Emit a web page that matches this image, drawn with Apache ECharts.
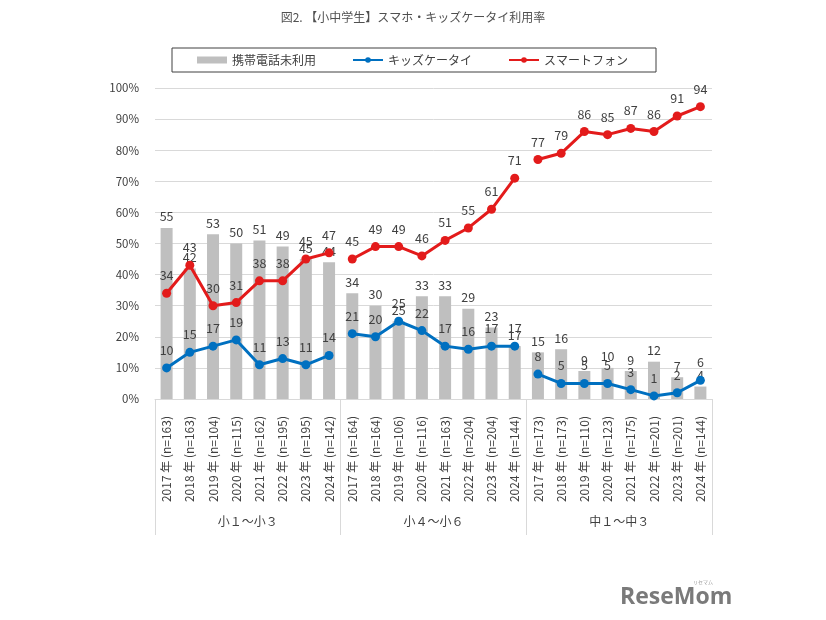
<!DOCTYPE html>
<html><head><meta charset="utf-8">
<script src="https://cdn.jsdelivr.net/npm/echarts@6/dist/echarts.min.js"></script>
<style>html,body{margin:0;padding:0;background:#fff}#c{width:826px;height:620px}</style>
</head><body><div id="c"></div>
<script>
var titleText = '図2. 【小中学生】スマホ・キッズケータイ利用率';
var groups = ['小１〜小３', '小４〜小６', '中１〜中３'];
var years = ['2017', '2018', '2019', '2020', '2021', '2022', '2023', '2024'];
var sampleSizes = [163,163,104,115,162,195,195,142, 164,164,106,116,163,204,204,144, 173,173,110,123,175,201,201,144];
var seriesNames = ['携帯電話未利用', 'キッズケータイ', 'スマートフォン'];
var noPhone = [55,42,53,50,51,49,45,44, 34,30,25,33,33,29,23,17, 15,16,9,10,9,12,7,4];
var kidsPhone = [10,15,17,19,11,13,11,14, 21,20,25,22,17,16,17,17, 8,5,5,5,3,1,2,6];
var smartphone = [34,43,30,31,38,38,45,47, 45,49,49,46,51,55,61,71, 77,79,86,85,87,86,91,94];
var yTicks = [0,10,20,30,40,50,60,70,80,90,100];

var categories = [];
for (var g = 0; g < groups.length; g++) {
  for (var y = 0; y < years.length; y++) {
    var i = g * years.length + y;
    categories.push(years[y] + ' 年 (n=' + sampleSizes[i] + ')');
  }
}
function groupSlice(arr, g) {
  return arr.map(function (v, i) { return Math.floor(i / years.length) === g ? v : '-'; });
}
var font = '"Noto Sans CJK JP", "Noto Sans", sans-serif';
var textCol = '#404040';
var series = [{
  name: seriesNames[0], type: 'bar', data: noPhone, barWidth: 12,
  itemStyle: { color: '#BFBFBF' },
  label: { show: true, position: 'top', distance: 5, color: textCol, fontSize: 12.5, fontFamily: font },
  z: 1
}];
var lineDefs = [[seriesNames[1], kidsPhone, '#0070C0'], [seriesNames[2], smartphone, '#E31B1B']];
lineDefs.forEach(function (d) {
  for (var g = 0; g < groups.length; g++) {
    series.push({
      name: d[0], type: 'line', data: groupSlice(d[1], g),
      symbol: 'circle', symbolSize: 9, showAllSymbol: true,
      lineStyle: { color: d[2], width: 3 }, itemStyle: { color: d[2] },
      label: { show: true, position: 'top', distance: 7, color: textCol, fontSize: 12.5, fontFamily: font },
      z: 3
    });
  }
});

var chart = echarts.init(document.getElementById('c'), null, { renderer: 'canvas' });
chart.setOption({
  animation: false,
  backgroundColor: '#fff',
  textStyle: { fontFamily: font },
  title: {
    text: titleText, left: 'center', top: 6,
    textStyle: { fontSize: 12, fontWeight: 'normal', color: '#505050', fontFamily: font }
  },
  legend: {
    data: [{ name: seriesNames[0], icon: 'rect' }, { name: seriesNames[1] }, { name: seriesNames[2] }],
    left: 172, top: 48,
    borderColor: '#404040', borderWidth: 1,
    padding: [6, 28, 6, 25], itemGap: 36, itemWidth: 30, itemHeight: 7,
    textStyle: { fontSize: 12, color: textCol, fontFamily: font }
  },
  grid: { left: 155, right: 114, top: 88, bottom: 221, containLabel: false },
  xAxis: [{
    type: 'category', data: categories, position: 'bottom',
    axisLine: { lineStyle: { color: '#D9D9D9' } },
    axisTick: { show: false },
    axisLabel: { rotate: 90, interval: 0, margin: 17, fontSize: 12, color: textCol, fontFamily: font }
  }, {
    type: 'category', data: groups, position: 'bottom',
    axisLine: { show: false },
    axisTick: { show: true, length: 136, interval: 0, lineStyle: { color: '#D9D9D9' } },
    axisLabel: { interval: 0, margin: 116, fontSize: 12, color: textCol, fontFamily: font }
  }],
  yAxis: {
    type: 'value', min: yTicks[0], max: yTicks[yTicks.length - 1], interval: 10,
    axisLine: { show: false }, axisTick: { show: false },
    splitLine: { lineStyle: { color: '#D9D9D9' } },
    axisLabel: { formatter: '{value}%', margin: 16, fontSize: 11.5, color: textCol, fontFamily: font }
  },
  series: series,
  graphic: [{
    type: 'text', left: 620, top: 586,
    style: { text: 'ReseMom', fontSize: 23, fontWeight: 'bold', fill: '#7a7a7a', fontFamily: '"Open Sans", sans-serif' }
  }, {
    type: 'text', left: 693, top: 580,
    style: { text: 'リセマム', fontSize: 5, fill: '#999', fontFamily: font }
  }]
});
</script>
</body></html>
